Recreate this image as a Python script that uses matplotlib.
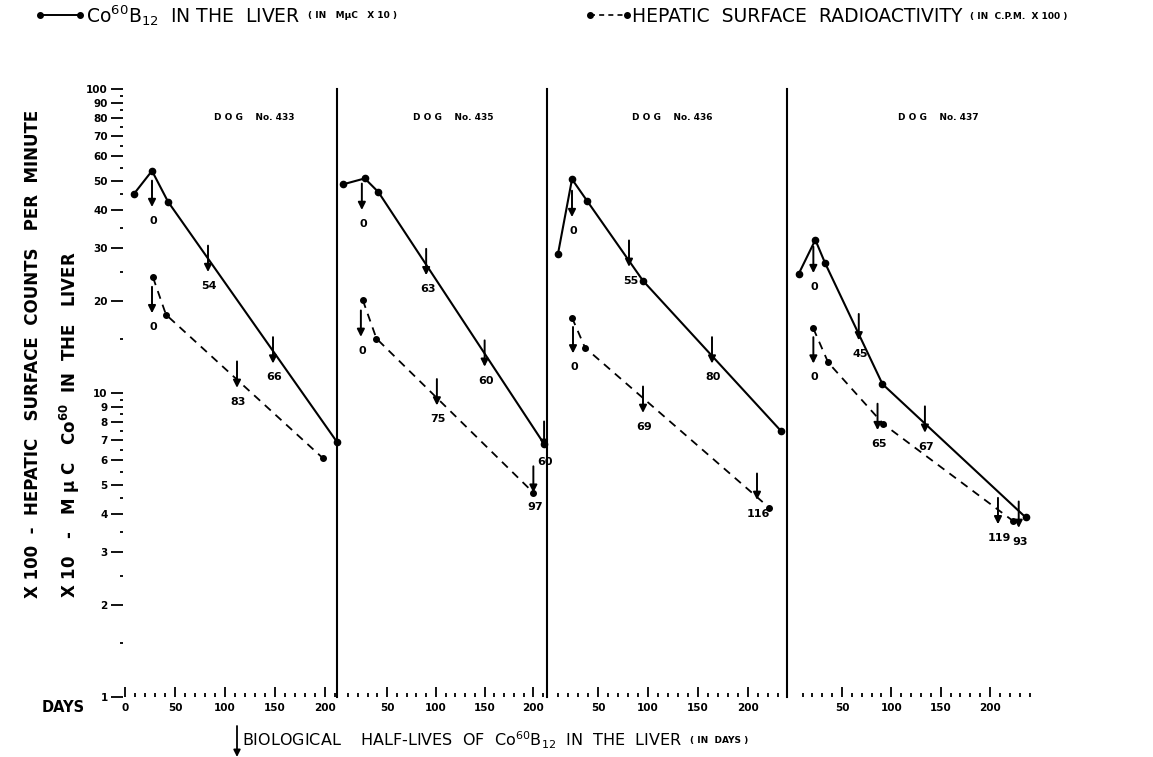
import matplotlib
matplotlib.use('Agg')
import matplotlib.pyplot as plt
from matplotlib.lines import Line2D
from matplotlib.patches import FancyArrowPatch
from matplotlib.ticker import FixedLocator, NullFormatter

plt.rcParams['font.family'] = ['DejaVu Sans']
plt.rcParams['mathtext.fontset'] = 'dejavusans'

# ---- data ----
dogs = ['433', '435', '436', '437']

# Co60B12 in the liver (m uc x 10), solid line
liver_days = [[9, 27, 43, 212],
              [5, 27, 41, 211],
              [10, 24, 39, 95, 233],
              [6, 23, 33, 91, 236]]
liver_vals = [[45.2, 53.8, 42.6, 6.9],
              [48.6, 50.8, 45.8, 6.8],
              [28.7, 50.5, 42.9, 23.4, 7.5],
              [24.6, 31.9, 26.7, 10.7, 3.9]]

# hepatic surface radioactivity (c.p.m. x 100), dashed line
surf_days = [[28, 41, 198],
             [25, 39, 200],
             [24, 37, 221],
             [21, 36, 92, 223]]
surf_vals = [[24.0, 18.1, 6.1],
             [20.2, 15.1, 4.7],
             [17.7, 14.1, 4.2],
             [16.3, 12.6, 7.9, 3.8]]

# biological half-life arrows: day, value at arrow tip, label
liver_hl_days = [[27, 83, 148], [24, 90, 150, 211], [24, 81, 164], [21, 67, 134, 229]]
liver_hl_vals = [[40.9, 25.0, 12.5], [40.0, 24.4, 12.2, 6.6], [37.9, 26.0, 12.5], [24.8, 14.9, 7.4, 3.6]]
liver_hl_text = [['0', '54', '66'], ['0', '63', '60', '60'], ['0', '55', '80'], ['0', '45', '67', '93']]
surf_hl_days = [[27, 112], [23, 101, 200], [25, 95, 209], [21, 86, 208]]
surf_hl_vals = [[18.3, 10.4], [15.3, 9.1, 4.7], [13.5, 8.6, 4.45], [12.5, 7.55, 3.7]]
surf_hl_text = [['0', '83'], ['0', '75', '97'], ['0', '69', '116'], ['0', '65', '119']]

x_labels = [[0, 50, 100, 150, 200], [50, 100, 150, 200], [50, 100, 150, 200], [50, 100, 150, 200]]
y_major = [1, 2, 3, 4, 5, 6, 7, 8, 9, 10, 20, 30, 40, 50, 60, 70, 80, 90, 100]
y_minor = [1.5, 2.5, 3.5, 4.5, 5.5, 6.5, 7.5, 8.5, 9.5, 15, 25, 35, 45, 55, 65, 75, 85, 95]

# ---- layout (pixels) ----
W, H = 1153, 757
Y_TOP, Y_BOT = 89, 697
panel_px = [(123, 337), (337, 547), (547, 787), (787, 1035)]
xlims = [(-2, 212), (-1.5, 214), (-1, 239), (-5.7, 245.5)]
dog_x = [254, 453, 672, 938]

fig = plt.figure(figsize=(W / 100, H / 100), dpi=100)

def fx(px):
    return px / W

def fy(py):
    return 1 - py / H

for i in range(4):
    x0, x1 = panel_px[i]
    ax = fig.add_axes([fx(x0), fy(Y_BOT), (x1 - x0) / W, (Y_BOT - Y_TOP) / H])
    ax.patch.set_alpha(0)
    ax.set_yscale('log')
    ax.set_ylim(1, 100)
    ax.set_xlim(*xlims[i])
    for s in ['top', 'right', 'bottom']:
        ax.spines[s].set_visible(False)
    ax.spines['left'].set_visible(i > 0)
    ax.spines['left'].set_linewidth(1.5)

    # x axis: small dots every 10 days, taller marks every 50
    ax.xaxis.set_major_locator(FixedLocator(x_labels[i]))
    minors = [d for d in range(10, 250, 10) if d % 50 != 0 and d < xlims[i][1]]
    ax.xaxis.set_minor_locator(FixedLocator(minors))
    ax.tick_params(axis='x', which='major', direction='in', length=7, width=1.3,
                   labelsize=7.5, pad=4)
    ax.tick_params(axis='x', which='minor', direction='in', length=3, width=1.3)
    for lab in ax.get_xticklabels():
        lab.set_fontweight('bold')

    if i == 0:
        ax.yaxis.set_major_locator(FixedLocator(y_major))
        ax.yaxis.set_minor_locator(FixedLocator(y_minor))
        ax.set_yticklabels([str(v) for v in y_major])
        ax.yaxis.set_minor_formatter(NullFormatter())
        ax.tick_params(axis='y', which='major', direction='out', length=9, width=1.3,
                       labelsize=7.5, pad=2)
        ax.tick_params(axis='y', which='minor', direction='out', length=2, width=1.3)
        for lab in ax.get_yticklabels():
            lab.set_fontweight('bold')
    else:
        ax.tick_params(axis='y', which='both', left=False, labelleft=False)

    ax.plot(liver_days[i], liver_vals[i], color='k', lw=1.5, marker='o', ms=4.5,
            clip_on=False)
    ax.plot(surf_days[i], surf_vals[i], color='k', lw=1.3, ls=(0, (4.5, 3.5)),
            marker='o', ms=4, clip_on=False)

    hl = list(zip(liver_hl_days[i], liver_hl_vals[i], liver_hl_text[i])) + \
        list(zip(surf_hl_days[i], surf_hl_vals[i], surf_hl_text[i]))
    for d, v, t in hl:
        ax.annotate('', xy=(d, v), xytext=(0, 19), textcoords='offset points',
                    annotation_clip=False,
                    arrowprops=dict(arrowstyle='-|>', color='k', lw=1.4,
                                    mutation_scale=11, shrinkA=0, shrinkB=0))
        ax.annotate(t, xy=(d, v), xytext=(1, -10), textcoords='offset points',
                    ha='center', va='center', fontsize=8, fontweight='bold',
                    annotation_clip=False)

    fig.text(fx(dog_x[i]), fy(117), 'D O G    No. ' + dogs[i], ha='center', va='center',
             fontsize=6.5, fontweight='bold')

# axis titles on the left
fig.text(fx(33), fy(598), 'X 100  -  HEPATIC   SURFACE  COUNTS   PER  MINUTE',
         rotation=90, ha='center', va='bottom', fontsize=12, fontweight='bold')
fig.text(fx(70), fy(598), 'X 10   -   M μ C   Co$^{\\mathbf{60}}$  IN  THE   LIVER',
         rotation=90, ha='center', va='bottom', fontsize=12, fontweight='bold')
fig.text(fx(42), fy(708), 'DAYS', ha='left', va='center', fontsize=10.5, fontweight='bold')

# legend along the top
fig.add_artist(Line2D([fx(40), fx(80)], [fy(15), fy(15)], transform=fig.transFigure,
                      color='k', lw=1.4, marker='o', ms=4))
fig.add_artist(Line2D([fx(590), fx(627)], [fy(15), fy(15)], transform=fig.transFigure,
                      color='k', lw=1.2, ls=(0, (3, 2.5)), marker='o', ms=4))

def text_run(x, y, parts):
    # parts: list of (string, fontsize, weight, gap before)
    fig.canvas.draw()
    r = fig.canvas.get_renderer()
    for s, size, weight, gap in parts:
        t = fig.text(fx(x + gap), fy(y), s, ha='left', va='center', fontsize=size,
                     fontweight=weight)
        x = t.get_window_extent(r).x1

text_run(86, 16, [('Co$^{60}$B$_{12}$  IN THE  LIVER', 13.5, 'normal', 0),
                  ('( IN   MμC   X 10 )', 6.5, 'bold', 8)])
text_run(632, 16, [('HEPATIC  SURFACE  RADIOACTIVITY', 13.5, 'normal', 0),
                   ('( IN  C.P.M.  X 100 )', 6.5, 'bold', 8)])
text_run(242, 740, [('BIOLOGICAL    HALF-LIVES  OF  Co$^{60}$B$_{12}$  IN  THE  LIVER', 11.5, 'normal', 0),
                    ('( IN  DAYS )', 6.5, 'bold', 8)])
fig.add_artist(FancyArrowPatch((fx(237), fy(726)), (fx(237), fy(757)),
                               transform=fig.transFigure, arrowstyle='-|>',
                               mutation_scale=10, color='k', lw=1.3,
                               shrinkA=0, shrinkB=0))

fig.savefig('out.png', dpi=100)
